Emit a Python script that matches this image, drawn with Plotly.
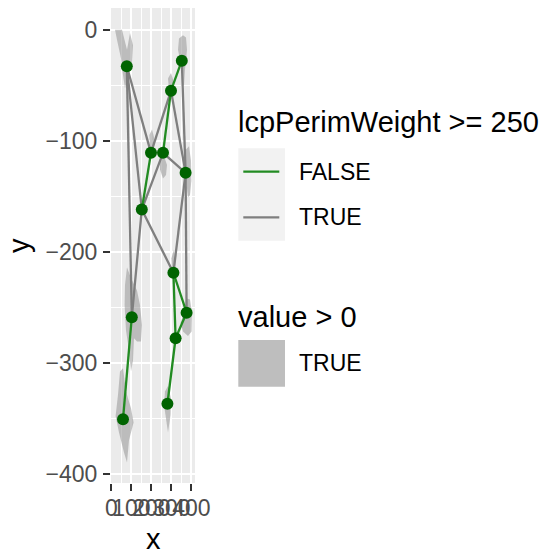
import plotly.graph_objects as go

# ---------------- data ----------------
node_x = [77, 352, 298, 198, 258, 371, 152, 310, 102, 376, 321, 58, 280]
node_y = [-33, -28, -55, -111, -111, -129, -162, -219, -259, -255, -278, -351, -337]

# edges (node indices) and the flag lcpPerimWeight >= 250
edge_from = [1, 2, 3, 7, 7, 9, 10, 8,   0, 0, 0, 3, 4, 4, 2, 1, 5, 5, 6, 6]
edge_to   = [2, 4, 6, 10, 9, 10, 12, 11, 3, 8, 6, 2, 6, 5, 5, 5, 9, 7, 7, 8]
edge_flag = [False, False, False, False, False, False, False, False,
             True, True, True, True, True, True, True, True, True, True, True, True]

# shaded regions (value > 0 is TRUE for all)
ribbon_x = [
    [18, 53, 78, 93, 108, 103, 83, 68, 58, 48, 28],
    [338, 358, 373, 378, 368, 363, 353, 348, 333],
    [283, 298, 308, 313, 298, 288],
    [190, 203, 213, 213, 193],
    [243, 263, 278, 273, 258, 243],
    [373, 388, 398, 400, 393, 383, 376, 368],
    [300, 313, 320, 318, 303],
    [68, 78, 98, 128, 143, 153, 148, 128, 113, 108, 98, 88, 73, 66],
    [43, 58, 73, 98, 111, 88, 78, 63, 38, 21, 33],
    [268, 283, 298, 296, 283, 273, 263],
    [373, 393, 403, 401, 383, 358, 346, 363],
]
ribbon_y = [
    [0, 0, -18, -3, -14, -29, -41, -53, -41, -26, -9],
    [-8, -5, -7, -18, -36, -50, -50, -32, -18],
    [-44, -39, -45, -56, -60, -54],
    [-95, -90, -97, -108, -108],
    [-118, -114, -122, -131, -134, -126],
    [-108, -105, -118, -136, -149, -151, -140, -122],
    [-206, -198, -209, -221, -221],
    [-230, -214, -224, -235, -248, -266, -281, -281, -278, -298, -308, -289, -271, -248],
    [-308, -305, -326, -341, -354, -370, -390, -381, -363, -348, -329],
    [-326, -321, -332, -347, -363, -352, -338],
    [-242, -243, -255, -272, -276, -272, -264, -255],
]

x_ticks = [0, 100, 200, 300, 400]
x_ticktext = ["0", "100", "200", "300", "400"]
y_ticks = [-400, -300, -200, -100, 0]
y_ticktext = ["\u2212400", "\u2212300", "\u2212200", "\u2212100", "0"]

color_title = "lcpPerimWeight >= 250"
color_levels = ["FALSE", "TRUE"]
fill_title = "value > 0"
fill_levels = ["TRUE"]

# ---------------- style ----------------
GREEN = "#228B22"
GREY = "#7F7F7F"
POINT = "#006400"
FONT = "Liberation Sans, Arial, sans-serif"
W, H = 545, 555
L, R, T, B = 111, 350, 8, 72
PW, PH = W - L - R, H - T - B


def px(xp):
    return (xp - L) / PW


def py(yp):
    return (H - B - yp) / PH


fig = go.Figure()

for rx, ry in zip(ribbon_x, ribbon_y):
    fig.add_trace(go.Scatter(x=rx + [rx[0]], y=ry + [ry[0]], mode="lines",
                             fill="toself", fillcolor="rgba(150,150,150,0.55)",
                             line=dict(width=0), hoverinfo="skip", showlegend=False))

for flag, col in [(True, GREY), (False, GREEN)]:
    xs, ys = [], []
    for a, b, f in zip(edge_from, edge_to, edge_flag):
        if f == flag:
            xs += [node_x[a], node_x[b], None]
            ys += [node_y[a], node_y[b], None]
    fig.add_trace(go.Scatter(x=xs, y=ys, mode="lines",
                             line=dict(color=col, width=2.3), showlegend=False))

fig.add_trace(go.Scatter(x=node_x, y=node_y, mode="markers",
                         marker=dict(color=POINT, size=12), showlegend=False))

axis_common = dict(showline=False, zeroline=False, ticks="outside", ticklen=7,
                   tickwidth=1.5, tickcolor="#333333", gridcolor="white",
                   gridwidth=2, tickfont=dict(family=FONT, size=23, color="#4D4D4D"),
                   tickmode="array", automargin=False)

fig.update_xaxes(range=[-2, 418], tickvals=x_ticks, ticktext=x_ticktext, tickangle=0,
                 minor=dict(tickvals=[50, 150, 250, 350], showgrid=True,
                            gridcolor="white", gridwidth=1, ticks=""),
                 ticklabelstandoff=-3, **axis_common)
fig.update_yaxes(range=[-408.4, 19.5], tickvals=y_ticks, ticktext=y_ticktext,
                 minor=dict(tickvals=[-350, -250, -150, -50], showgrid=True,
                            gridcolor="white", gridwidth=1, ticks=""),
                 ticklabelstandoff=1, **axis_common)

shapes = [
    dict(type="rect", xref="paper", yref="paper", x0=px(238.3), x1=px(285),
         y0=py(148.3), y1=py(240.7), fillcolor="#F2F2F2", line=dict(width=0), layer="above"),
    dict(type="line", xref="paper", yref="paper", x0=px(243.3), x1=px(279.3),
         y0=py(171.7), y1=py(171.7), line=dict(color=GREEN, width=2.3)),
    dict(type="line", xref="paper", yref="paper", x0=px(243.3), x1=px(279.3),
         y0=py(217.3), y1=py(217.3), line=dict(color=GREY, width=2.3)),
    dict(type="rect", xref="paper", yref="paper", x0=px(238.3), x1=px(285),
         y0=py(340), y1=py(386.7), fillcolor="#BEBEBE", line=dict(width=0), layer="above"),
]

ann = []


def text(s, x, y, size, color="black", xanchor="left", angle=0):
    ann.append(dict(text=s, x=px(x), y=py(y), xref="paper", yref="paper",
                    xanchor=xanchor, yanchor="middle", showarrow=False, textangle=angle,
                    font=dict(family=FONT, size=size, color=color)))


text(color_title, 236, 122, 29)
text(color_levels[0], 297, 171.7, 23)
text(color_levels[1], 297, 217.3, 23)
text(fill_title, 236, 317, 29)
text(fill_levels[0], 297, 363, 23)
text("x", 153, 539, 29, xanchor="center")
text("y", 19, 245, 29, xanchor="center", angle=-90)

fig.update_layout(width=W, height=H, margin=dict(l=L, r=R, t=T, b=B),
                  paper_bgcolor="white", plot_bgcolor="#EBEBEB",
                  shapes=shapes, annotations=ann, showlegend=False)

fig.write_html("out.html", config={"displayModeBar": False},
               post_script="document.body.style.margin='0';document.body.style.overflow='hidden';")
